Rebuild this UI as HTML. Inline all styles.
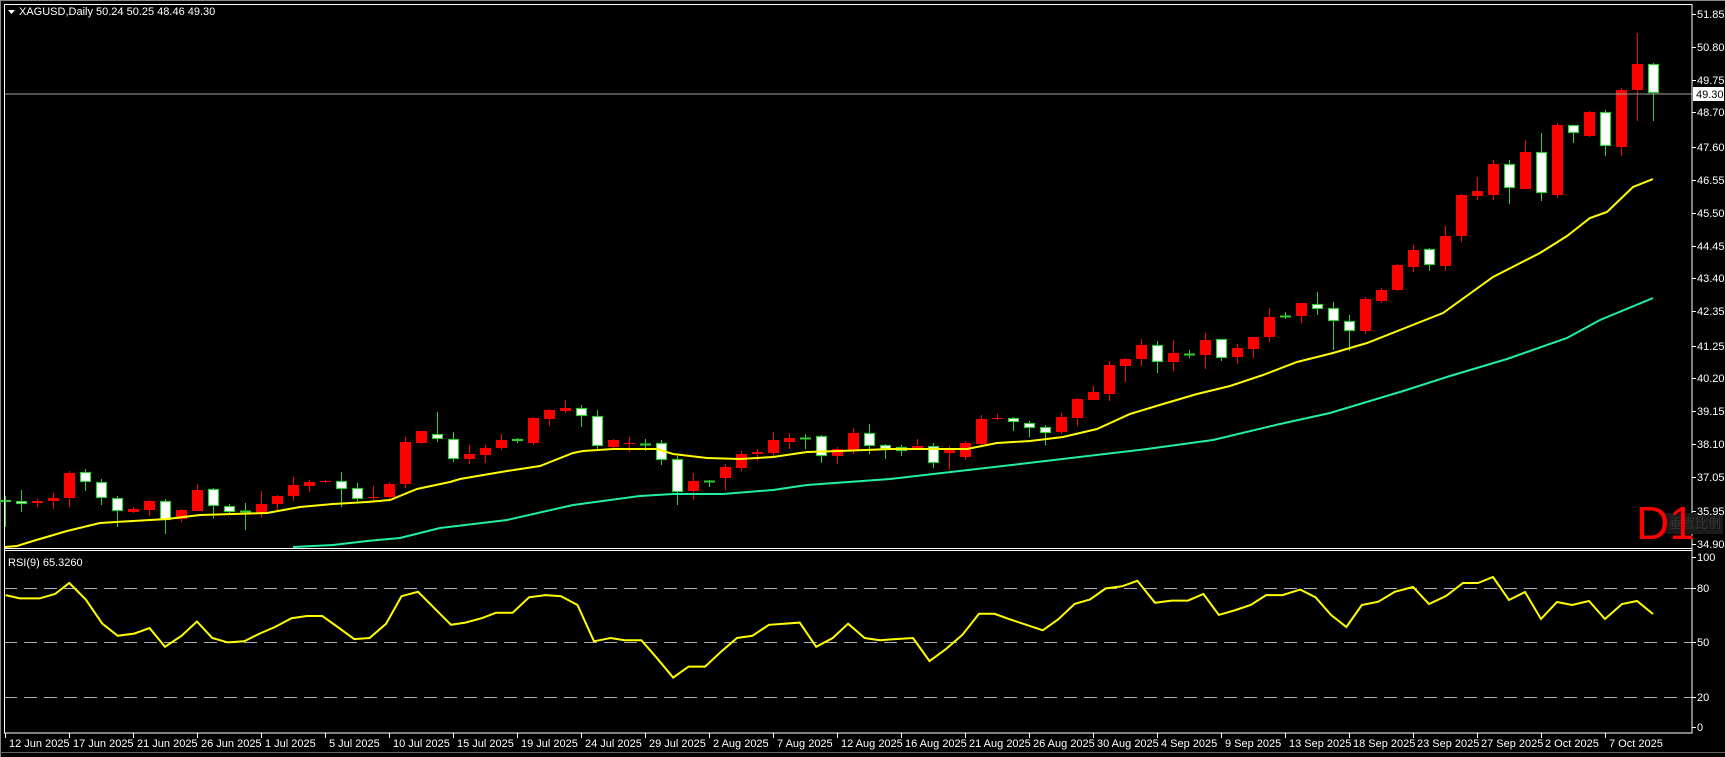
<!DOCTYPE html>
<html><head><meta charset="utf-8"><style>
html,body{margin:0;padding:0;background:#000;width:1725px;height:757px;overflow:hidden}
svg{display:block}
text{font-family:"Liberation Sans","Noto Sans CJK SC",sans-serif;font-size:11px;fill:#fff}
</style></head><body>
<svg id="s" width="1725" height="757" viewBox="0 0 1725 757" xmlns="http://www.w3.org/2000/svg">
<rect x="0" y="0" width="1725" height="757" fill="#000"/>
<line x1="0" y1="0.5" x2="1725" y2="0.5" stroke="#888"/>
<line x1="0.5" y1="0" x2="0.5" y2="757" stroke="#888"/>
<g id="grid"></g>
<g id="cand"></g>
<polyline id="yma" fill="none" stroke="#ffff00" stroke-width="2"/>
<polyline id="cma" fill="none" stroke="#20f0a0" stroke-width="2"/>
<line x1="4" y1="94" x2="1692" y2="94" stroke="#a0a0a0" stroke-width="1"/>
<polyline id="rsi" fill="none" stroke="#ffff00" stroke-width="2"/>
<!-- frame -->
<rect x="4.5" y="4.5" width="1687.5" height="728.5" fill="none" stroke="#fff"/>
<line x1="4" y1="548.5" x2="1692" y2="548.5" stroke="#fff"/>
<line x1="4" y1="550.5" x2="1692" y2="550.5" stroke="#fff"/>
<line x1="0" y1="752.5" x2="1725" y2="752.5" stroke="#666"/>
<!-- header -->
<polygon points="8,10 15,10 11.5,14" fill="#fff"/>
<text x="19" y="15">XAGUSD,Daily  50.24 50.25 48.46 49.30</text>
<text x="8" y="566">RSI(9) 65.3260</text>
<!-- D1 -->
<rect x="1663" y="513" width="60" height="21" fill="#1a1a1a"/>
<text x="1669" y="528" style="font-size:13px;fill:#333">垂直比例</text>
<text x="1636" y="539" style="font-size:46px;fill:#ff0000">D1</text>
<!-- price labels -->
<g id="plab"></g>
<rect x="1693" y="87" width="31" height="14" fill="#fff"/>
<text x="1696" y="98" style="fill:#000">49.30</text>
<!-- RSI labels -->
<text x="1697" y="561">100</text>
<text x="1697" y="592">80</text>
<text x="1697" y="646">50</text>
<text x="1697" y="701">20</text>
<text x="1697" y="731">0</text>
<line x1="1692" y1="557.5" x2="1696" y2="557.5" stroke="#fff"/>
<line x1="1692" y1="588.5" x2="1696" y2="588.5" stroke="#fff"/>
<line x1="1692" y1="642.5" x2="1696" y2="642.5" stroke="#fff"/>
<line x1="1692" y1="697.5" x2="1696" y2="697.5" stroke="#fff"/>
<line x1="1692" y1="727.5" x2="1696" y2="727.5" stroke="#fff"/>
<!-- date labels -->
<g id="dates">
<text x="9" y="747">12 Jun 2025</text>
<text x="73" y="747">17 Jun 2025</text>
<text x="137" y="747">21 Jun 2025</text>
<text x="201" y="747">26 Jun 2025</text>
<text x="265" y="747">1 Jul 2025</text>
<text x="329" y="747">5 Jul 2025</text>
<text x="393" y="747">10 Jul 2025</text>
<text x="457" y="747">15 Jul 2025</text>
<text x="521" y="747">19 Jul 2025</text>
<text x="585" y="747">24 Jul 2025</text>
<text x="649" y="747">29 Jul 2025</text>
<text x="713" y="747">2 Aug 2025</text>
<text x="777" y="747">7 Aug 2025</text>
<text x="841" y="747">12 Aug 2025</text>
<text x="905" y="747">16 Aug 2025</text>
<text x="969" y="747">21 Aug 2025</text>
<text x="1033" y="747">26 Aug 2025</text>
<text x="1097" y="747">30 Aug 2025</text>
<text x="1161" y="747">4 Sep 2025</text>
<text x="1225" y="747">9 Sep 2025</text>
<text x="1289" y="747">13 Sep 2025</text>
<text x="1353" y="747">18 Sep 2025</text>
<text x="1417" y="747">23 Sep 2025</text>
<text x="1481" y="747">27 Sep 2025</text>
<text x="1545" y="747">2 Oct 2025</text>
<text x="1609" y="747">7 Oct 2025</text>
</g>
<g id="plabs">
<text x="1697" y="18">51.85</text>
<text x="1697" y="51">50.80</text>
<text x="1697" y="84">49.75</text>
<text x="1697" y="116">48.70</text>
<text x="1697" y="151">47.60</text>
<text x="1697" y="184">46.55</text>
<text x="1697" y="217">45.50</text>
<text x="1697" y="250">44.45</text>
<text x="1697" y="282">43.40</text>
<text x="1697" y="315">42.35</text>
<text x="1697" y="350">41.25</text>
<text x="1697" y="382">40.20</text>
<text x="1697" y="415">39.15</text>
<text x="1697" y="448">38.10</text>
<text x="1697" y="481">37.05</text>
<text x="1697" y="515">35.95</text>
<text x="1697" y="548">34.90</text>
</g>
</svg>
<script>
var NS="http://www.w3.org/2000/svg";
function el(p,t,a){var e=document.createElementNS(NS,t);for(var k in a)e.setAttribute(k,a[k]);p.appendChild(e);return e;}
var g=document.getElementById('grid');
[588,642,697].forEach(function(y){el(g,'line',{x1:4,x2:1692,y1:y+0.5,y2:y+0.5,stroke:'#b0b0b0','stroke-dasharray':'13,7'});});
// price ticks
[14,47,80,112,147,180,213,246,278,311,346,378,411,444,477,511,544].forEach(function(y){el(g,'line',{x1:1692,x2:1696,y1:y+0.5,y2:y+0.5,stroke:'#fff'});});
for(var k=0;k<26;k++){var x=5+64*k;el(g,'line',{x1:x+0.5,x2:x+0.5,y1:733,y2:738,stroke:'#fff'});}
// candles: [bodyTop, bodyBot, high, low, up(1=red)]
var C=[
[500,502,496,527,0],[501,504,490,512,0],[501,503,499,507,1],[498,501,493,509,1],[473,498,471,507,1],
[472,482,469,491,0],[482,498,479,505,0],[498,511,496,527,0],[509,512,507,513,1],[501,510,500,516,1],
[501,520,499,534,0],[510,519,509,522,1],[490,511,484,511,1],[489,506,488,518,0],[506,512,504,513,0],
[511,512,503,530,0],[504,513,491,517,1],[496,504,495,510,1],[485,496,477,501,1],[482,486,480,492,1],
[481,481,480,483,1],[481,489,472,507,0],[488,499,483,501,0],[497,497,486,502,1],[484,497,482,500,1],
[442,484,437,488,1],[431,443,431,444,1],[434,439,412,442,0],[439,459,432,462,0],[454,459,445,464,1],
[448,455,445,463,1],[440,448,434,450,1],[439,441,438,443,0],[418,443,417,445,1],[410,419,409,426,1],
[408,411,400,413,1],[408,416,405,427,0],[416,446,410,449,0],[440,447,439,448,1],[443,443,437,452,1],
[444,444,439,451,0],[443,460,440,465,0],[459,492,456,505,0],[481,491,473,500,1],[481,481,480,487,0],
[467,478,464,490,1],[454,468,451,471,1],[452,454,449,461,1],[440,453,432,456,1],[438,442,433,449,1],
[438,438,434,449,0],[436,456,435,463,0],[449,456,447,464,1],[433,450,428,454,1],[433,446,424,454,0],
[445,449,444,459,0],[447,451,445,456,0],[446,448,439,450,1],[446,463,443,468,0],[450,453,446,470,1],
[443,457,441,460,1],[419,444,415,447,1],[418,418,414,420,1],[418,422,417,431,0],[423,428,421,437,0],
[427,433,425,445,0],[417,432,413,434,1],[399,418,398,426,1],[392,400,386,400,1],[365,394,361,401,1],
[359,366,358,382,1],[345,359,339,366,1],[345,362,341,373,0],[353,362,340,371,1],[354,354,350,358,0],
[340,355,333,369,1],[339,358,339,361,0],[348,357,344,364,1],[337,349,337,358,1],[317,337,308,342,1],
[316,316,312,319,0],[303,316,303,323,1],[304,309,292,315,0],[308,321,302,350,0],[321,331,315,351,0],
[299,331,297,334,1],[290,301,288,303,1],[265,290,264,291,1],[250,267,245,272,1],[249,265,248,271,0],
[236,266,226,271,1],[195,236,194,242,1],[191,196,177,200,1],[164,195,160,200,1],[164,188,160,204,0],
[152,189,140,189,1],[152,193,133,201,0],[125,195,123,198,1],[125,133,125,143,0],[112,136,111,137,1],
[112,146,110,156,0],[90,147,88,156,1],[64,90,33,121,1],[64,93,63,121,0]];
var cg=document.getElementById('cand');
C.forEach(function(c,i){
 var x=5+16*i, up=c[4]==1, col=up?'#ff0000':'#32cd32';
 el(cg,'line',{x1:x+0.5,x2:x+0.5,y1:c[2],y2:c[3],stroke:col,'stroke-width':1});
 if(c[1]-c[0]<=1){el(cg,'line',{x1:x-5,x2:x+6,y1:c[0]+0.5,y2:c[0]+0.5,stroke:col,'stroke-width':up?1:2});}
 else if(up){el(cg,'rect',{x:x-5,y:c[0],width:11,height:c[1]-c[0],fill:'#ff0000'});}
 else{el(cg,'rect',{x:x-4.5,y:c[0]+0.5,width:10,height:c[1]-c[0]-1,fill:'#fff',stroke:'#32cd32','stroke-width':1.2});}
});
document.getElementById('yma').setAttribute('points',
"5,547 17,546 33,541 67,531 100,523 133,521 167,519 200,515 233,514 267,513 300,507 333,504 367,502 390,500 417,489 450,482 460,479 507,471 540,466 573,453 583,451 613,449 657,449 673,454 707,458 740,459 773,457 807,452 840,451 890,449 967,449 997,443 1030,441 1063,437 1097,429 1130,414 1163,404 1197,394 1230,386 1263,375 1297,362 1333,353 1367,343 1400,330 1443,313 1493,277 1540,253 1567,236 1590,218 1607,212 1633,187 1653,179");
document.getElementById('cma').setAttribute('points',
"293,547 333,545 367,541 400,538 440,528 507,520 573,505 640,496 673,494 723,494 773,490 807,485 890,479 1020,464 1147,449 1213,440 1280,424 1330,413 1400,392 1450,376 1507,359 1567,338 1600,320 1653,298");
var R=[[5,541],[18,544],[36,544],[50,540],[63,530],[78,545],[93,567],[107,578],[122,576],[136,571],[150,588],[165,578],[179,565],[193,580],[207,584],[222,583],[236,576],[250,570],[265,562],[279,560],[293,560],[307,570],[322,581],[336,580],[351,567],[365,542],[380,538],[394,552],[410,568],[423,566],[438,562],[451,557],[466,557],[481,543],[496,541],[510,542],[525,550],[540,583],[555,580],[568,582],[583,582],[597,598],[612,616],[626,606],[641,606],[656,592],[670,580],[684,578],[699,568],[713,567],[727,566],[742,588],[757,580],[771,567],[786,580],[800,582],[814,581],[830,580],[845,601],[860,590],[875,577],[890,558],[904,558],[918,563],[933,568],[948,573],[962,563],[977,549],[991,545],[1005,535],[1020,533],[1034,528],[1050,548],[1065,546],[1080,546],[1094,540],[1108,559],[1122,555],[1137,550],[1151,541],[1166,541],[1182,536],[1196,543],[1210,559],[1224,570],[1238,550],[1253,547],[1268,538]];
var pts=R.map(function(p){return (p[0]*1.1).toFixed(1)+","+(p[1]*1.1).toFixed(1);});
pts=pts.concat(["1413,587","1429,604","1446,596","1463,583","1478,583","1493,577","1509,600","1525,592","1541,619","1557,602","1572,605","1589,601","1605,619","1622,604","1637,601","1653,614"]);
document.getElementById('rsi').setAttribute('points',pts.join(" "));
</script>
</body></html>
